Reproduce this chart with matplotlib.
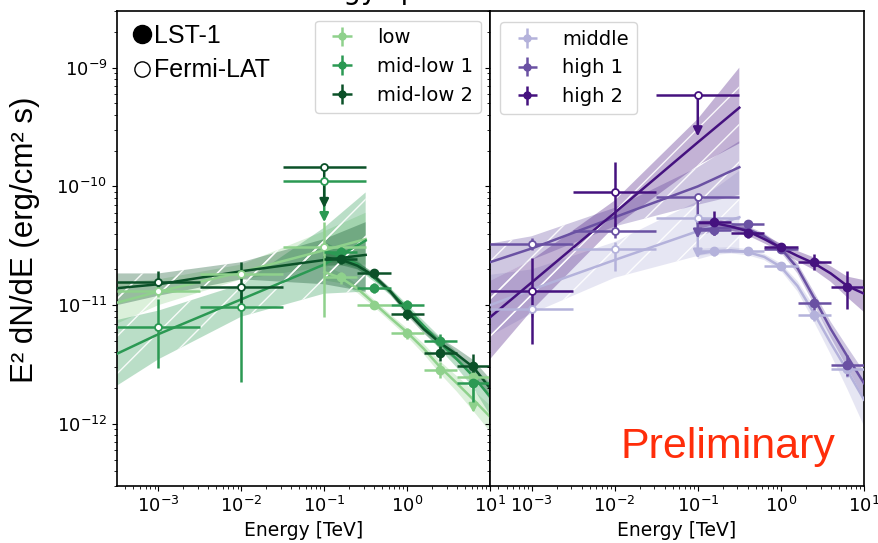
import numpy as np
import matplotlib.pyplot as plt
from matplotlib.lines import Line2D
from matplotlib.colors import to_rgba

nan = np.nan

# bins and energies (TeV)
lat_edges = [10**-3.5, 10**-2.5, 10**-1.5, 10**-0.5]
lst_edges = [0.1, 0.251, 0.631, 1.585, 3.981, 10.0]
e_lat = [1e-3, 1e-2, 1e-1]
e_lst = [0.158, 0.398, 1.0, 2.51, 6.31]
e_lat_fit = [10**-3.5, 1e-3, 1e-2, 1e-1, 10**-0.5]
e_lst_fit = [0.1, 0.158, 0.251, 0.398, 0.631, 1.0, 1.585, 2.51, 3.98, 6.31, 10.0]

# ---- left panel: low / mid-low 1 / mid-low 2
low_lat = [1.31e-11, 1.83e-11, 3.06e-11]
low_lat_lo = [1.17e-11, 1.64e-11, 7.9e-12]
low_lat_hi = [1.46e-11, 2.05e-11, 5.0e-11]
low_lat_ul = [False, False, False]
low_lst = [1.71e-11, 1.01e-11, 5.8e-12, 2.87e-12, 2.47e-12]
low_lst_err = [0.12, 0.08, 0.1, 0.15, 0.0]
low_lst_ul = [False, False, False, False, True]
low_lat_fit = [1.05e-11, 1.30e-11, 1.9e-11, 2.9e-11, 3.6e-11]
low_lat_band_lo = [7.0e-12, 1.0e-11, 1.65e-11, 2.1e-11, 2.2e-11]
low_lat_band_hi = [1.55e-11, 1.65e-11, 2.2e-11, 4.2e-11, 6.0e-11]
low_lst_fit = [1.9e-11, 1.7e-11, 1.38e-11, 1.04e-11, 7.8e-12, 5.9e-12, 4.3e-12, 3.0e-12, 2.2e-12, 1.6e-12, 1.15e-12]
low_lst_band = [0.15, 0.1, 0.08, 0.07, 0.07, 0.08, 0.1, 0.12, 0.15, 0.2, 0.25]

ml1_lat = [6.5e-12, 9.6e-12, 1.11e-10]
ml1_lat_lo = [2.96e-12, 2.24e-12, nan]
ml1_lat_hi = [1.13e-11, 1.45e-11, nan]
ml1_lat_ul = [False, False, True]
ml1_lst = [2.78e-11, 1.40e-11, 1.01e-11, 5.0e-12, 2.2e-12]
ml1_lst_err = [0.12, 0.1, 0.1, 0.15, 0.3]
ml1_lst_ul = [False, False, False, False, False]
ml1_lat_fit = [3.9e-12, 5.7e-12, 1.12e-11, 2.2e-11, 3.5e-11]
ml1_lat_band_lo = [2.1e-12, 3.5e-12, 8.0e-12, 1.25e-11, 1.3e-11]
ml1_lat_band_hi = [7.5e-12, 9.0e-12, 1.5e-11, 4.5e-11, 8.9e-11]
ml1_lst_fit = [2.85e-11, 2.6e-11, 2.2e-11, 1.7e-11, 1.3e-11, 9.4e-12, 6.7e-12, 4.8e-12, 3.5e-12, 2.5e-12, 1.7e-12]
ml1_lst_band = [0.2, 0.12, 0.08, 0.07, 0.07, 0.08, 0.1, 0.12, 0.15, 0.2, 0.3]

ml2_lat = [1.56e-11, 1.43e-11, 1.46e-10]
ml2_lat_lo = [1.25e-11, 1.0e-11, nan]
ml2_lat_hi = [1.95e-11, 2.33e-11, nan]
ml2_lat_ul = [False, False, True]
ml2_lst = [2.45e-11, 1.85e-11, 8.4e-12, 3.96e-12, 3.10e-12]
ml2_lst_err = [0.1, 0.08, 0.1, 0.15, 0.25]
ml2_lst_ul = [False, False, False, False, False]
ml2_lat_fit = [1.39e-11, 1.5e-11, 1.93e-11, 2.4e-11, 2.65e-11]
ml2_lat_band_lo = [1.0e-11, 1.2e-11, 1.65e-11, 1.5e-11, 1.3e-11]
ml2_lat_band_hi = [1.85e-11, 1.85e-11, 2.3e-11, 3.6e-11, 5.0e-11]
ml2_lst_fit = [2.52e-11, 2.42e-11, 2.15e-11, 1.77e-11, 1.3e-11, 8.8e-12, 6.3e-12, 4.8e-12, 3.85e-12, 3.0e-12, 2.0e-12]
ml2_lst_band = [0.15, 0.1, 0.07, 0.06, 0.06, 0.07, 0.08, 0.1, 0.12, 0.15, 0.2]

# ---- right panel: middle / high 1 / high 2
mid_lat = [9.3e-12, 2.96e-11, 5.47e-11]
mid_lat_lo = [8.0e-12, 1.95e-11, nan]
mid_lat_hi = [1.08e-11, 3.4e-11, nan]
mid_lat_ul = [False, False, True]
mid_lst = [2.84e-11, 2.84e-11, 2.15e-11, 8.2e-12, 2.9e-12]
mid_lst_err = [0.08, 0.06, 0.06, 0.1, 0.15]
mid_lst_ul = [False, False, False, False, False]
mid_lat_fit = [1.0e-11, 1.35e-11, 2.4e-11, 4.2e-11, 5.5e-11]
mid_lat_band_lo = [5.5e-12, 8.5e-12, 1.7e-11, 2.6e-11, 2.9e-11]
mid_lat_band_hi = [1.8e-11, 2.0e-11, 3.4e-11, 7.5e-11, 1.35e-10]
mid_lst_fit = [2.7e-11, 2.85e-11, 2.9e-11, 2.8e-11, 2.55e-11, 2.1e-11, 1.45e-11, 8.5e-12, 4.8e-12, 2.8e-12, 1.6e-12]
mid_lst_band = [0.1, 0.07, 0.06, 0.06, 0.06, 0.07, 0.1, 0.15, 0.2, 0.3, 0.4]

h1_lat = [3.27e-11, 4.24e-11, 8.07e-11]
h1_lat_lo = [2.9e-11, 3.7e-11, nan]
h1_lat_hi = [3.7e-11, 4.9e-11, nan]
h1_lat_ul = [False, False, True]
h1_lst = [4.29e-11, 4.82e-11, 3.0e-11, 1.04e-11, 3.14e-12]
h1_lst_err = [0.1, 0.08, 0.08, 0.12, 0.2]
h1_lst_ul = [False, False, False, False, False]
h1_lat_fit = [2.3e-11, 3.0e-11, 5.5e-11, 1.0e-10, 1.45e-10]
h1_lat_band_lo = [1.6e-11, 2.4e-11, 4.6e-11, 7.0e-11, 8.5e-11]
h1_lat_band_hi = [3.3e-11, 3.8e-11, 6.6e-11, 1.45e-10, 2.4e-10]
h1_lst_fit = [4.3e-11, 4.45e-11, 4.5e-11, 4.35e-11, 3.8e-11, 3.0e-11, 2.05e-11, 1.15e-11, 6.3e-12, 3.7e-12, 2.2e-12]
h1_lst_band = [0.1, 0.07, 0.06, 0.06, 0.06, 0.07, 0.1, 0.12, 0.15, 0.2, 0.25]

h2_lat = [1.32e-11, 8.9e-11, 5.86e-10]
h2_lat_lo = [4.7e-12, 4.2e-11, nan]
h2_lat_hi = [2.5e-11, 1.59e-10, nan]
h2_lat_ul = [False, False, True]
h2_lst = [5.04e-11, 4.05e-11, 3.06e-11, 2.33e-11, 1.43e-11]
h2_lst_err = [0.22, 0.1, 0.1, 0.15, 0.35]
h2_lst_ul = [False, False, False, False, False]
h2_lat_fit = [7.9e-12, 1.55e-11, 6.0e-11, 2.35e-10, 4.6e-10]
h2_lat_band_lo = [3.5e-12, 9.0e-12, 4.6e-11, 1.5e-10, 2.3e-10]
h2_lat_band_hi = [1.6e-11, 2.4e-11, 7.6e-11, 3.7e-10, 1.0e-9]
h2_lst_fit = [4.9e-11, 4.9e-11, 4.6e-11, 4.2e-11, 3.6e-11, 3.05e-11, 2.6e-11, 2.25e-11, 1.85e-11, 1.45e-11, 1.25e-11]
h2_lst_band = [0.12, 0.1, 0.08, 0.08, 0.08, 0.08, 0.1, 0.12, 0.15, 0.2, 0.3]

greens = ['#8fd18c', '#2b9953', '#0b5128']
purples = ['#b4b2db', '#6a51a3', '#45127f']


def hatch_lines(ax, poly):
    # sparse white diagonal lines over the Fermi bands
    path = poly.get_paths()[0]
    for s in np.arange(-1.4, 1.0, 0.1):
        ln, = ax.plot([s, s + 1.27], [0, 1], transform=ax.transAxes,
                      color='white', lw=1.0, alpha=0.9, zorder=1.5)
        ln.set_clip_path(path, ax.transData)


def draw_group(ax, c, label, lat, lat_lo, lat_hi, lat_ul, lst, lst_err, lst_ul,
               lat_fit, lat_band_lo, lat_band_hi, lst_fit, lst_band):
    poly = ax.fill_between(e_lat_fit, lat_band_lo, lat_band_hi,
                           facecolor=to_rgba(c, 0.32), linewidth=0, zorder=1)
    hatch_lines(ax, poly)
    ax.plot(e_lat_fit, lat_fit, color=c, lw=1.8, zorder=3)

    fit = np.array(lst_fit)
    band = np.array(lst_band)
    ax.fill_between(e_lst_fit, fit * (1 - band), fit * (1 + band),
                    facecolor=to_rgba(c, 0.32), linewidth=0, zorder=1)
    ax.plot(e_lst_fit, fit, color=c, lw=1.8, zorder=3)

    # Fermi-LAT points (open)
    for i, e in enumerate(e_lat):
        xerr = [[e - lat_edges[i]], [lat_edges[i + 1] - e]]
        if lat_ul[i]:
            ax.errorbar(e, lat[i], xerr=xerr, fmt='o', ms=5, mfc='white', mec=c,
                        mew=1.3, color=c, lw=1.8, capsize=0, zorder=4)
            ax.annotate('', xy=(e, lat[i] * 0.45), xytext=(e, lat[i]),
                        arrowprops=dict(arrowstyle='-|>', color=c, lw=1.8,
                                        mutation_scale=13, shrinkA=0, shrinkB=0),
                        zorder=4)
        else:
            yerr = [[lat[i] - lat_lo[i]], [lat_hi[i] - lat[i]]]
            ax.errorbar(e, lat[i], xerr=xerr, yerr=yerr, fmt='o', ms=5, mfc='white',
                        mec=c, mew=1.3, color=c, lw=1.8, capsize=0, zorder=4)

    # LST-1 points (filled)
    for i, e in enumerate(e_lst):
        xerr = [[e - lst_edges[i]], [lst_edges[i + 1] - e]]
        if lst_ul[i]:
            ax.errorbar(e, lst[i], xerr=xerr, fmt='o', ms=6, color=c, lw=1.8,
                        capsize=0, zorder=5)
            ax.annotate('', xy=(e, lst[i] * 0.5), xytext=(e, lst[i]),
                        arrowprops=dict(arrowstyle='-|>', color=c, lw=1.8,
                                        mutation_scale=13, shrinkA=0, shrinkB=0),
                        zorder=5)
        else:
            ax.errorbar(e, lst[i], xerr=xerr, yerr=lst[i] * lst_err[i], fmt='o',
                        ms=6, color=c, lw=1.8, capsize=0, zorder=5)

    # legend proxy with caps
    return ax.errorbar([], [], xerr=[], yerr=[], fmt='o', ms=5, color=c, lw=1.8,
                       capsize=3, label=label)


fig = plt.figure(figsize=(8.79, 5.43), dpi=100)
ax1 = fig.add_axes([117 / 879, 57 / 543, 373 / 879, 475 / 543])
ax2 = fig.add_axes([490 / 879, 57 / 543, 374 / 879, 475 / 543], sharey=ax1)

hl = [
    draw_group(ax1, greens[0], 'low', low_lat, low_lat_lo, low_lat_hi, low_lat_ul,
               low_lst, low_lst_err, low_lst_ul, low_lat_fit, low_lat_band_lo,
               low_lat_band_hi, low_lst_fit, low_lst_band),
    draw_group(ax1, greens[1], 'mid-low 1', ml1_lat, ml1_lat_lo, ml1_lat_hi, ml1_lat_ul,
               ml1_lst, ml1_lst_err, ml1_lst_ul, ml1_lat_fit, ml1_lat_band_lo,
               ml1_lat_band_hi, ml1_lst_fit, ml1_lst_band),
    draw_group(ax1, greens[2], 'mid-low 2', ml2_lat, ml2_lat_lo, ml2_lat_hi, ml2_lat_ul,
               ml2_lst, ml2_lst_err, ml2_lst_ul, ml2_lat_fit, ml2_lat_band_lo,
               ml2_lat_band_hi, ml2_lst_fit, ml2_lst_band),
]
hr = [
    draw_group(ax2, purples[0], 'middle', mid_lat, mid_lat_lo, mid_lat_hi, mid_lat_ul,
               mid_lst, mid_lst_err, mid_lst_ul, mid_lat_fit, mid_lat_band_lo,
               mid_lat_band_hi, mid_lst_fit, mid_lst_band),
    draw_group(ax2, purples[1], 'high 1', h1_lat, h1_lat_lo, h1_lat_hi, h1_lat_ul,
               h1_lst, h1_lst_err, h1_lst_ul, h1_lat_fit, h1_lat_band_lo,
               h1_lat_band_hi, h1_lst_fit, h1_lst_band),
    draw_group(ax2, purples[2], 'high 2', h2_lat, h2_lat_lo, h2_lat_hi, h2_lat_ul,
               h2_lst, h2_lst_err, h2_lst_ul, h2_lat_fit, h2_lat_band_lo,
               h2_lat_band_hi, h2_lst_fit, h2_lst_band),
]

for ax in (ax1, ax2):
    ax.set_xscale('log')
    ax.set_yscale('log')
    ax.set_xlim(10**-3.5, 10)
    ax.set_ylim(3e-13, 3e-9)
    ax.tick_params(labelsize=13)
    ax.set_xlabel('Energy [TeV]', fontsize=13.5)
    for sp in ax.spines.values():
        sp.set_linewidth(1.2)
ax2.tick_params(labelleft=False)

leg1 = ax1.legend(handles=hl, loc='upper right', bbox_to_anchor=(0.975, 0.98),
                  borderaxespad=0, fontsize=14)
ax1.add_artist(leg1)
inst = [Line2D([], [], marker='o', ls='', color='black', ms=13),
        Line2D([], [], marker='o', ls='', mfc='white', mec='black', mew=1, ms=11)]
ax1.legend(inst, ['LST-1', 'Fermi-LAT'], loc='upper left', bbox_to_anchor=(0.0, 1.01),
           frameon=False, handlelength=0.6, handletextpad=0.2, labelspacing=0.42,
           borderaxespad=0.3, prop={'family': 'Liberation Sans', 'size': 18})
ax2.legend(handles=hr, loc='upper left', bbox_to_anchor=(0.027, 0.977),
           borderaxespad=0, fontsize=14)

ax2.text(0.348, 0.059, 'Preliminary', transform=ax2.transAxes, color='#ff2d0a',
         fontsize=31, family='Liberation Sans', va='baseline')
fig.text(25 / 879, 1 - 240 / 543, 'E² dN/dE (erg/cm² s)', rotation=90, fontsize=22.5,
         family='Liberation Sans', ha='center', va='center')
fig.text(0.438, 1.0 + 1 / 543, 'Energy spectra', ha='center', va='baseline', fontsize=20)

fig.savefig('out.png', dpi=100)
